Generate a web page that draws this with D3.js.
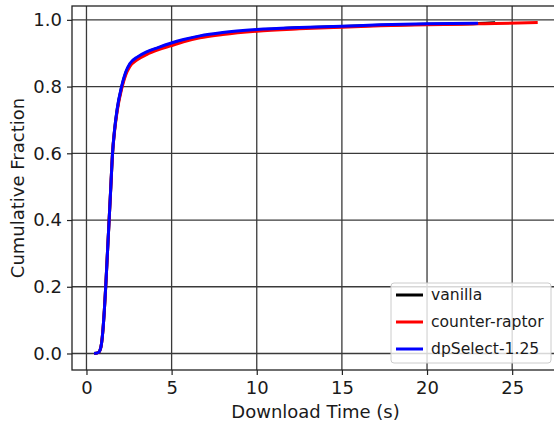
<!DOCTYPE html>
<html>
<head>
<meta charset="utf-8">
<script src="https://cdn.jsdelivr.net/npm/d3@7"></script>
<style>
  body { margin: 0; background: #fff; }
  svg { display: block; font-family: "DejaVu Sans", sans-serif; }
</style>
</head>
<body>
<svg id="chart" width="554" height="424"></svg>
<script>
// download time CDF
var vanillaX = [0.45, 0.7, 0.85, 0.95, 1.05, 1.13, 1.23, 1.33, 1.43, 1.53, 1.65, 1.8, 2.06, 2.3, 2.55, 3.0, 3.53, 4.2, 4.94, 5.7, 6.66, 8.0, 10, 12.5, 15, 17.25, 20, 23.0, 24.0];
var vanillaY = [0.0, 0.003, 0.02, 0.06, 0.13, 0.2, 0.3, 0.4, 0.5, 0.6, 0.67, 0.73, 0.797, 0.84, 0.866, 0.887, 0.902, 0.915, 0.928, 0.939, 0.95, 0.96, 0.969, 0.976, 0.98, 0.984, 0.987, 0.989, 0.991];

var raptorX = [0.45, 0.7, 0.85, 0.95, 1.05, 1.13, 1.23, 1.33, 1.43, 1.53, 1.65, 1.8, 2.06, 2.3, 2.55, 3.0, 3.53, 4.2, 4.94, 5.7, 6.66, 8.0, 10, 12.5, 15, 17.25, 20, 23.0, 24.0, 26.5];
var raptorY = [0.0, 0.003, 0.02, 0.06, 0.13, 0.2, 0.3, 0.4, 0.5, 0.6, 0.666, 0.725, 0.792, 0.834, 0.86, 0.881, 0.896, 0.91, 0.922, 0.934, 0.946, 0.956, 0.966, 0.973, 0.978, 0.982, 0.985, 0.988, 0.989, 0.992];

var dpselX = [0.45, 0.7, 0.85, 0.95, 1.05, 1.13, 1.23, 1.33, 1.43, 1.53, 1.65, 1.8, 2.06, 2.3, 2.55, 3.0, 3.53, 4.2, 4.94, 5.7, 6.66, 8.0, 10, 12.5, 15, 17.25, 20, 23.0];
var dpselY = [0.0, 0.003, 0.02, 0.06, 0.13, 0.2, 0.3, 0.4, 0.5, 0.6, 0.67, 0.732, 0.8, 0.843, 0.869, 0.889, 0.904, 0.917, 0.93, 0.941, 0.952, 0.962, 0.971, 0.977, 0.981, 0.985, 0.988, 0.99];

var seriesNames = ["vanilla", "counter-raptor", "dpSelect-1.25"];
var seriesColors = ["#000000", "#ff0000", "#0000ff"];
var xTicks = [0, 5, 10, 15, 20, 25];
var yTicks = [0.0, 0.2, 0.4, 0.6, 0.8, 1.0];

var svg = d3.select("#chart"),
    margin = {top: 6, right: -5, bottom: 54, left: 72},
    width = 554 - margin.left - margin.right,
    height = 424 - margin.top - margin.bottom;

var x = d3.scaleLinear().domain([-0.85, 27.75]).range([0, width]);
var y = d3.scaleLinear().domain([-0.0495, 1.0415]).range([height, 0]);

var g = svg.append("g").attr("transform", "translate(" + margin.left + "," + margin.top + ")");

// grid
g.append("g").selectAll("line").data(xTicks).enter().append("line")
    .attr("x1", function(d) { return x(d); }).attr("x2", function(d) { return x(d); })
    .attr("y1", 0).attr("y2", height)
    .attr("stroke", "#3a3a3a").attr("stroke-width", 1.3);
g.append("g").selectAll("line").data(yTicks).enter().append("line")
    .attr("y1", function(d) { return y(d); }).attr("y2", function(d) { return y(d); })
    .attr("x1", 0).attr("x2", width)
    .attr("stroke", "#3a3a3a").attr("stroke-width", 1.3);

// series
var series = [
    {name: seriesNames[0], color: seriesColors[0], xs: vanillaX, ys: vanillaY},
    {name: seriesNames[1], color: seriesColors[1], xs: raptorX, ys: raptorY},
    {name: seriesNames[2], color: seriesColors[2], xs: dpselX, ys: dpselY}
];
var line = d3.line()
    .x(function(d) { return x(d[0]); })
    .y(function(d) { return y(d[1]); })
    .curve(d3.curveMonotoneX);

series.forEach(function(s) {
    g.append("path")
        .datum(d3.zip(s.xs, s.ys))
        .attr("fill", "none")
        .attr("stroke", s.color)
        .attr("stroke-width", 3)
        .attr("stroke-linejoin", "round")
        .attr("d", line);
});

// axes
var xAxis = d3.axisBottom(x).tickValues(xTicks).tickFormat(d3.format("d")).tickSize(5).tickPadding(6);
var yAxis = d3.axisLeft(y).tickValues(yTicks).tickFormat(d3.format(".1f")).tickSize(5).tickPadding(5);

var gx = g.append("g").attr("transform", "translate(0," + height + ")").call(xAxis);
var gy = g.append("g").call(yAxis);
[gx, gy].forEach(function(a) {
    a.select(".domain").remove();
    a.selectAll(".tick line").attr("stroke", "#222").attr("stroke-width", 1.2);
    a.selectAll(".tick text").attr("fill", "#1a1a1a").style("font-size", "18px").style("font-family", "DejaVu Sans");
});

// spines
g.append("rect").attr("x", 0).attr("y", 0).attr("width", width).attr("height", height)
    .attr("fill", "none").attr("stroke", "#222").attr("stroke-width", 1.3);

// labels
svg.append("text")
    .attr("x", margin.left + width / 2).attr("y", 418)
    .attr("text-anchor", "middle").style("font-size", "18px").attr("fill", "#1a1a1a")
    .text("Download Time (s)");
svg.append("text")
    .attr("transform", "translate(24," + (margin.top + height / 2) + ") rotate(-90)")
    .attr("text-anchor", "middle").style("font-size", "18px").attr("fill", "#1a1a1a")
    .text("Cumulative Fraction");

// legend
var legend = svg.append("g").attr("transform", "translate(391,283)");
legend.append("rect")
    .attr("width", 160).attr("height", 80).attr("rx", 3)
    .attr("fill", "#fff").attr("fill-opacity", 0.8)
    .attr("stroke", "#cccccc").attr("stroke-width", 1);
var item = legend.selectAll("g.item").data(series).enter().append("g")
    .attr("class", "item")
    .attr("transform", function(d, i) { return "translate(0," + (12 + i * 27) + ")"; });
item.append("line")
    .attr("x1", 5).attr("x2", 32).attr("y1", 0).attr("y2", 0)
    .attr("stroke", function(d) { return d.color; }).attr("stroke-width", 3);
item.append("text")
    .attr("x", 40).attr("y", 0).attr("dy", "0.35em")
    .style("font-size", "15.6px").attr("fill", "#1a1a1a")
    .text(function(d) { return d.name; });
</script>
</body>
</html>
